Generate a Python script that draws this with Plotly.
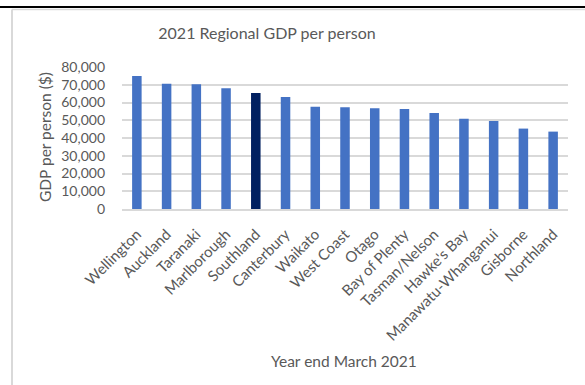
import plotly.graph_objects as go

regions = ["Wellington", "Auckland", "Taranaki", "Marlborough", "Southland",
           "Canterbury", "Waikato", "West Coast", "Otago", "Bay of Plenty",
           "Tasman/Nelson", "Hawke's Bay", "Manawatu-Whanganui", "Gisborne", "Northland"]
gdp_per_person = [74900, 70600, 70250, 68000, 65350,
                  63100, 57650, 57300, 56700, 56300,
                  54100, 50900, 49600, 45300, 43600]
highlight = "Southland"
y_ticks = [0, 10000, 20000, 30000, 40000, 50000, 60000, 70000, 80000]

BLUE = "#4472C4"
NAVY = "#002060"
TXT = "#595959"
GRID = "#D9D9D9"
FONT = "Lato, 'Open Sans', sans-serif"

colors = [NAVY if r == highlight else BLUE for r in regions]

fig = go.Figure(go.Bar(
    x=regions, y=gdp_per_person,
    marker=dict(color=colors, line=dict(width=0)),
    hoverinfo="x+y",
))

W, H = 585, 385
L, R, T, B = 122, 568, 67, 209


def px(x):
    return (x - L) / (R - L)


def py(y):
    return (B - y) / (B - T)


fig.update_layout(
    width=W, height=H,
    margin=dict(l=L, r=W - R, t=T, b=H - B, pad=0),
    paper_bgcolor="white", plot_bgcolor="white",
    bargap=0.68,
    showlegend=False,
    font=dict(family=FONT, color=TXT, size=14),
    title=dict(text="2021 Regional GDP per person", x=267 / W, xref="container",
               xanchor="center", y=1 - 33 / H, yref="container", yanchor="middle",
               font=dict(family=FONT, size=16, color=TXT)),
    xaxis=dict(tickangle=-45, showgrid=False, showline=True, linecolor=GRID, linewidth=1.5,
               ticks="", ticklabelstandoff=9, tickfont=dict(size=15, color=TXT), fixedrange=True),
    yaxis=dict(range=[0, 80000], tickvals=y_ticks, tickformat=",", showgrid=True,
               gridcolor=GRID, gridwidth=1.5, zeroline=False, showline=False, ticks="",
               ticklabelstandoff=16, tickfont=dict(size=14, color=TXT), fixedrange=True),
    annotations=[
        dict(text="GDP per person ($)", textangle=-90, x=px(45), y=py(137),
             xref="paper", yref="paper", showarrow=False, xanchor="center", yanchor="middle",
             font=dict(size=15.5, color=TXT, family=FONT)),
        dict(text="Year end March 2021", x=px(344), y=py(361),
             xref="paper", yref="paper", showarrow=False, xanchor="center", yanchor="middle",
             font=dict(size=15.5, color=TXT, family=FONT)),
        dict(text="g", x=px(36), y=py(2), xref="paper", yref="paper", showarrow=False,
             xanchor="center", yanchor="bottom", font=dict(size=20, color="black", family=FONT)),
    ],
    shapes=[
        dict(type="line", xref="paper", yref="paper", x0=px(0), x1=px(585), y0=py(7), y1=py(7),
             line=dict(color="black", width=2)),
        dict(type="line", xref="paper", yref="paper", x0=px(12), x1=px(585), y0=py(9.5), y1=py(9.5),
             line=dict(color=GRID, width=1.5)),
        dict(type="line", xref="paper", yref="paper", x0=px(12), x1=px(12), y0=py(9.5), y1=py(385),
             line=dict(color=GRID, width=2)),
    ],
)

fig.write_html("out.html", config={"displayModeBar": False},
               post_script="document.body.style.margin='0';document.body.style.overflow='hidden';")
